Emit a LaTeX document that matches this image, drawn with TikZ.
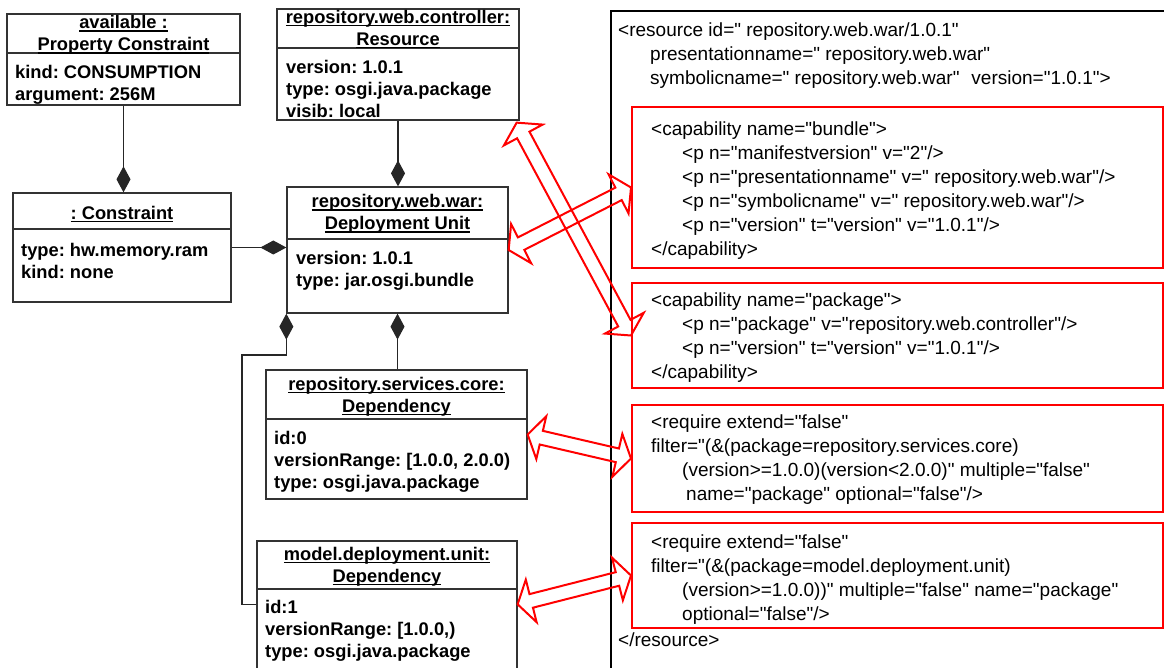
\documentclass[tikz,border=0pt]{standalone}
\usepackage{fontspec}
\setmainfont{Liberation Sans}[Ligatures=TeXOff]
\usetikzlibrary{calc,fit,arrows.meta}
\frenchspacing
\newcommand\ulx[1]{\setbox0\hbox{#1}\rlap{\rule[-3pt]{\wd0}{1.3pt}}\box0}
\newcommand\dblarrow[2]{%
 \draw[blockarrow] let \p1=($(#2)-(#1)$), \n1={atan2(\y1,\x1)} in
  (#1) -- ($(#1)+(\n1:14pt)+(\n1+90:22pt)$) -- ($(#1)+(\n1:14pt)+(\n1+90:7pt)$)
  -- ($(#2)+(\n1+180:14pt)+(\n1+90:7pt)$) -- ($(#2)+(\n1+180:14pt)+(\n1+90:22pt)$)
  -- (#2) -- ($(#2)+(\n1+180:14pt)+(\n1-90:22pt)$) -- ($(#2)+(\n1+180:14pt)+(\n1-90:7pt)$)
  -- ($(#1)+(\n1:14pt)+(\n1-90:7pt)$) -- ($(#1)+(\n1:14pt)+(\n1-90:22pt)$) -- cycle;}
\tikzset{
 umlbox/.style={draw=black!80, line width=1.3pt, inner sep=0pt},
 divider/.style={draw=black!80, line width=1.3pt},
 utitle/.style={font=\fontsize{18.3}{22}\selectfont\bfseries\frenchspacing, inner sep=0pt, align=center, anchor=north, execute at begin node=\strut},
 uattr/.style={font=\fontsize{18.3}{22}\selectfont\bfseries\frenchspacing, inner sep=0pt, align=left, anchor=north west, execute at begin node=\strut},
 xmltext/.style={font=\fontsize{19}{24}\selectfont\frenchspacing, inner sep=0pt, align=left, anchor=north west, execute at begin node=\strut},
 redbox/.style={draw=red, line width=2pt, inner sep=0pt},
 frame/.style={draw=black, line width=1.3pt, inner sep=0pt},
 comp/.style={draw=black!85, line width=1.2pt},
 blockarrow/.style={draw=red, line width=2pt, line join=miter},
}
\begin{document}
\begin{tikzpicture}[x=1pt,y=-1pt]
\useasboundingbox (0,0) rectangle (1164,668);
\clip (0,0) rectangle (1164,668);

% ---------- XML frame and red boxes ----------
\node[frame, fit={(611,11) (1200,700)}] (xmlframe) {};
\node[redbox, fit={(632,107) (1163,268)}] (cap1) {};
\node[redbox, fit={(632,283) (1163,388)}] (cap2) {};
\node[redbox, fit={(632,405) (1163,512)}] (req1) {};
\node[redbox, fit={(632,523) (1163,628)}] (req2) {};

\node[xmltext] (xhead) at (618,22.5) {<resource id=" repository.web.war/1.0.1"\\
\hspace*{32pt}presentationname=" repository.web.war"\\
\hspace*{32pt}symbolicname=" repository.web.war"\hspace{12pt}version="1.0.1">};
\node[xmltext] (xcap1) at (651,121.5) {<capability name="bundle">\\
\hspace*{31pt}<p n="manifestversion" v="2"/>\\
\hspace*{31pt}<p n="presentationname" v=" repository.web.war"/>\\
\hspace*{31pt}<p n="symbolicname" v=" repository.web.war"/>\\
\hspace*{31pt}<p n="version" t="version" v="1.0.1"/>\\
</capability>};
\node[xmltext] (xcap2) at (651,292.5) {<capability name="package">\\
\hspace*{31pt}<p n="package" v="repository.web.controller"/>\\
\hspace*{31pt}<p n="version" t="version" v="1.0.1"/>\\
</capability>};
\node[xmltext] (xreq1) at (651,415) {<require extend="false"\\
filter="(\&(package=repository.services.core)\\
\hspace*{31pt}(version>=1.0.0)(version<2.0.0)" multiple="false"\\
\hspace*{35pt}name="package" optional="false"/>};
\node[xmltext] (xreq2) at (651,535) {<require extend="false"\\
filter="(\&(package=model.deployment.unit)\\
\hspace*{31pt}(version>=1.0.0))" multiple="false" name="package"\\
\hspace*{31pt}optional="false"/>};
\node[xmltext] (xend) at (618,629) {</resource>};

% ---------- UML boxes ----------
\node[umlbox, fit={(7,14) (240,105)}] (avail) {};
\draw[divider] (7,53) -- (240,53);
\node[utitle] (availT) at (123.5,15.1) {\ulx{available :}\\\ulx{Property Constraint}};
\node[uattr] (availA) at (15,64.6) {kind: CONSUMPTION\\argument: 256M};

\node[umlbox, fit={(277,9) (519,120)}] (res) {};
\draw[divider] (277,48) -- (519,48);
\node[utitle] (resT) at (398,9.6) {\ulx{repository.web.controller:}\\\ulx{Resource}};
\node[uattr] (resA) at (286,59.6) {version: 1.0.1\\type: osgi.java.package\\visib: local};

\node[umlbox, fit={(13,193) (231,302)}] (cons) {};
\draw[divider] (13,229) -- (231,229);
\node[utitle] (consT) at (122,203.6) {\ulx{: Constraint}};
\node[uattr] (consA) at (21,242.6) {type: hw.memory.ram\\kind: none};

\node[umlbox, fit={(287,187) (508,313)}] (du) {};
\draw[divider] (287,239) -- (508,239);
\node[utitle] (duT) at (397.5,194.1) {\ulx{repository.web.war:}\\\ulx{Deployment Unit}};
\node[uattr] (duA) at (296,250.6) {version: 1.0.1\\type: jar.osgi.bundle};

\node[umlbox, fit={(266,370) (527,499)}] (svc) {};
\draw[divider] (266,419) -- (527,419);
\node[utitle] (svcT) at (396.5,376.6) {\ulx{repository.services.core:}\\\ulx{Dependency}};
\node[uattr] (svcA) at (274,430.6) {id:0\\versionRange: [1.0.0, 2.0.0)\\type: osgi.java.package};

\node[umlbox, fit={(257,541) (517,700)}] (model) {};
\draw[divider] (257,589) -- (517,589);
\node[utitle] (modelT) at (387,546.6) {\ulx{model.deployment.unit:}\\\ulx{Dependency}};
\node[uattr] (modelA) at (265,599.6) {id:1\\versionRange: [1.0.0,)\\type: osgi.java.package};

% ---------- composition connectors ----------
\draw[comp, -{Diamond[length=26pt,width=14pt]}] (avail.south) -- (avail.south |- cons.north);
\draw[comp, -{Diamond[length=26pt,width=14pt]}] (res.south) -- (res.south |- du.north);
\draw[comp, -{Diamond[length=26pt,width=14pt]}] (cons.east) -- (cons.east -| du.west);
\draw[comp, {Diamond[length=26pt,width=14pt]}-] (du.south) -- (du.south |- svc.north);
\coordinate (bend) at (242,355);
\coordinate (modelIn) at ($(model.north west)+(0,64)$);
\draw[comp, {Diamond[length=26pt,width=14pt]}-] (du.south west) |- (bend) |- (modelIn);

% ---------- red double arrows ----------
\coordinate (resTip) at ($(res.south east)+(-3,2)$);
\coordinate (modelTip) at ($(model.north east)+(0,64)$);
\dblarrow{resTip}{cap2.west}
\dblarrow{du.east}{cap1.west}
\dblarrow{svc.east}{req1.west}
\dblarrow{modelTip}{req2.west}
\end{tikzpicture}
\end{document}
